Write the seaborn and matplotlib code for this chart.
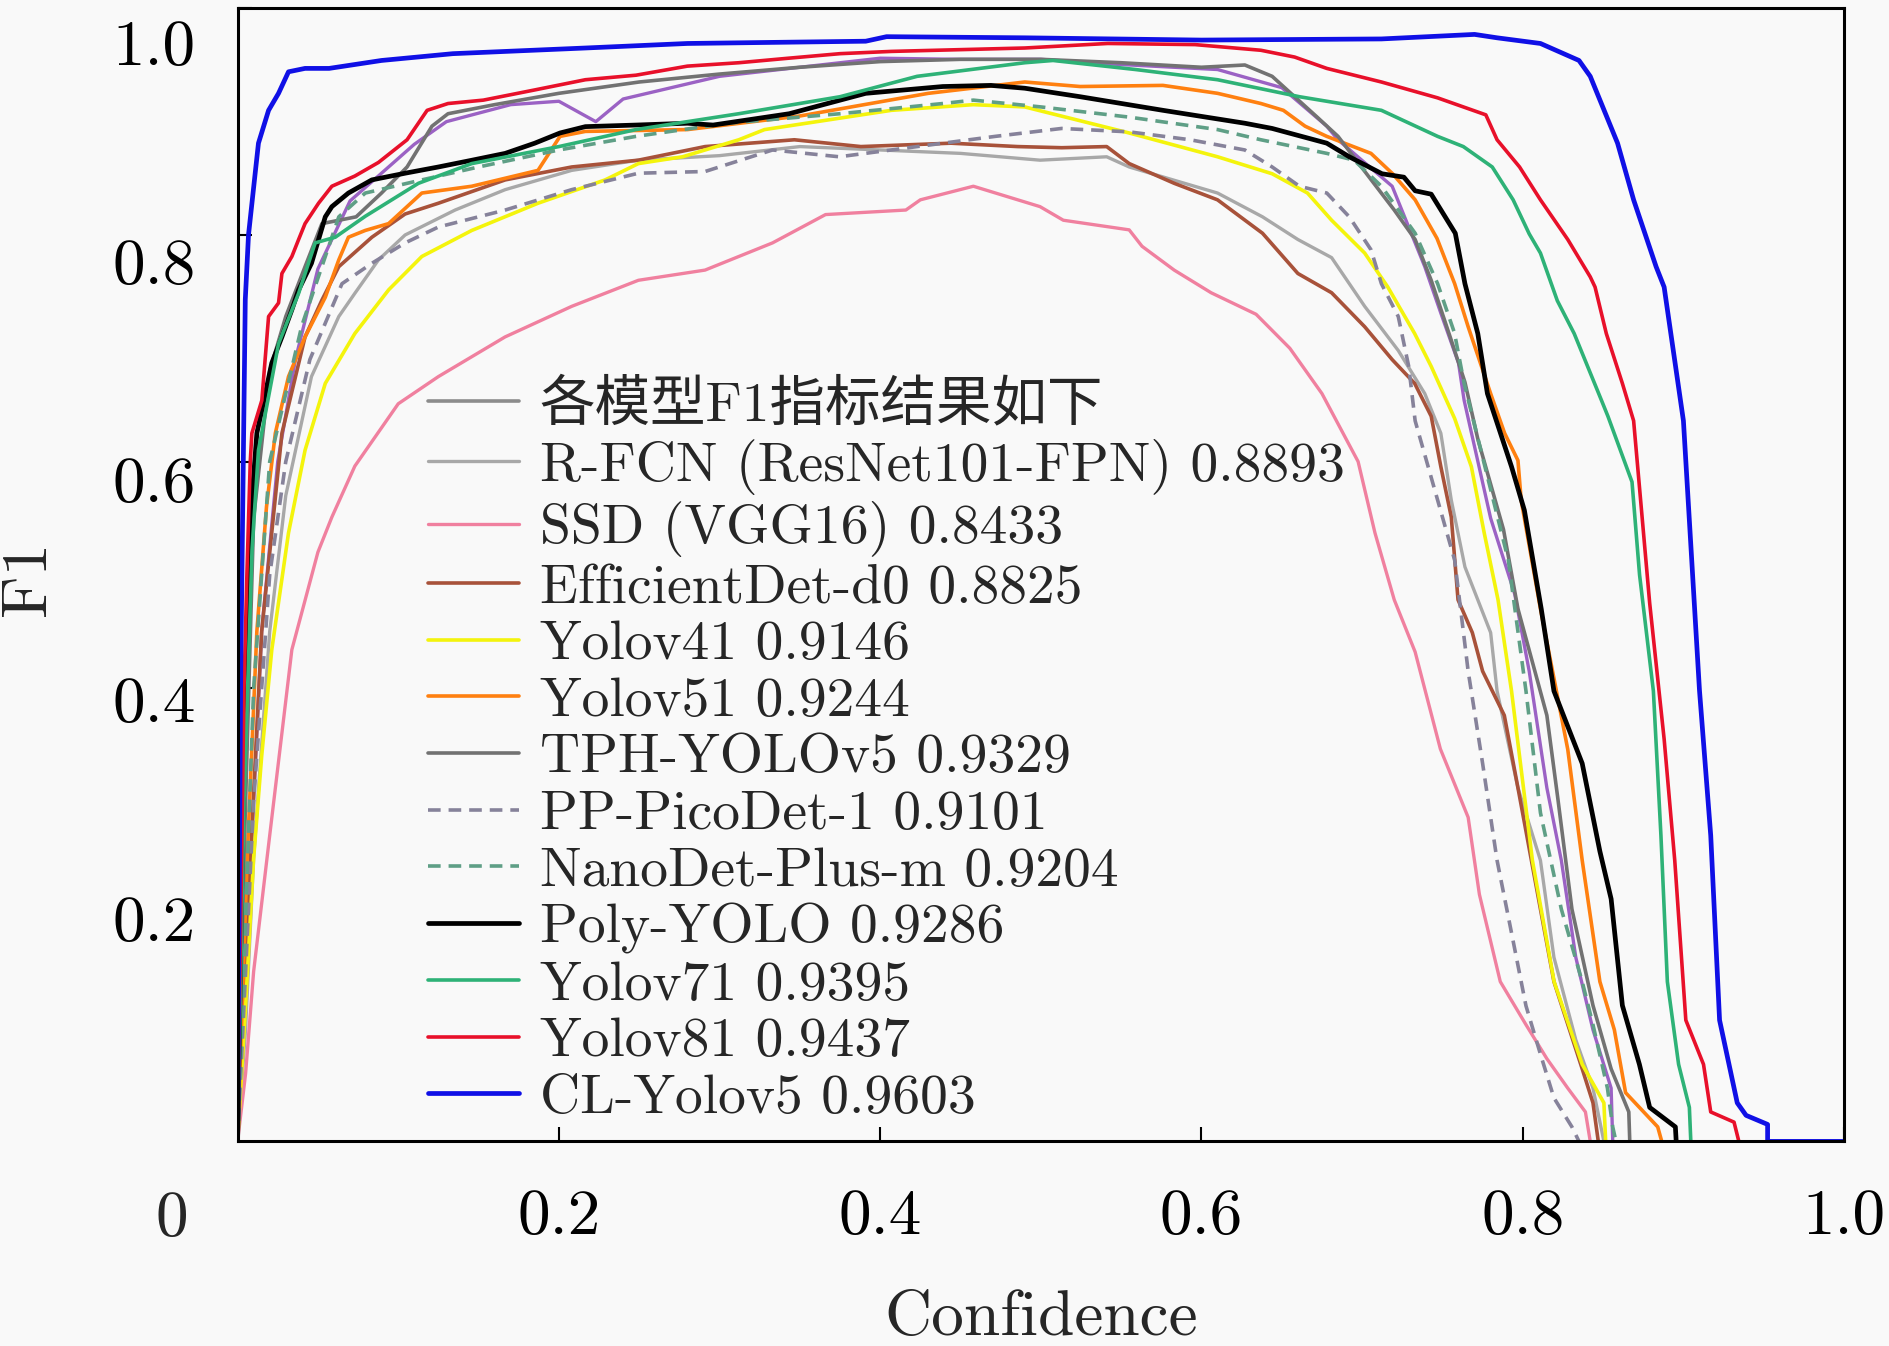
import matplotlib
matplotlib.use("Agg")
import matplotlib.pyplot as plt
from matplotlib.transforms import ScaledTranslation
import seaborn as sns

# ---------------- data ----------------
legend_title_name = "各模型F1指标结果如下"

rfcn_x = [0.0, 0.005, 0.01, 0.02, 0.03, 0.046, 0.063, 0.073, 0.0877, 0.1043, 0.1354, 0.1666, 0.208, 0.2495, 0.3, 0.35, 0.4, 0.45, 0.4995, 0.541, 0.555, 0.61, 0.638, 0.66, 0.681, 0.7016, 0.7225, 0.739, 0.749, 0.7555, 0.764, 0.78, 0.784, 0.797, 0.811, 0.8194, 0.833, 0.8437, 0.8505]
rfcn_y = [0.0, 0.1, 0.25, 0.45, 0.57, 0.675, 0.728, 0.7485, 0.778, 0.80, 0.822, 0.84, 0.857, 0.866, 0.87, 0.878, 0.875, 0.872, 0.866, 0.869, 0.86, 0.837, 0.816, 0.796, 0.78, 0.737, 0.698, 0.66, 0.625, 0.566, 0.507, 0.449, 0.3975, 0.312, 0.248, 0.1625, 0.0896, 0.047, 0.0]

ssd_x = [0.0, 0.005, 0.01, 0.02, 0.0338, 0.05, 0.0587, 0.073, 0.1, 0.125, 0.1665, 0.208, 0.2495, 0.291, 0.333, 0.366, 0.416, 0.425, 0.458, 0.4995, 0.514, 0.555, 0.563, 0.583, 0.606, 0.634, 0.655, 0.675, 0.6975, 0.708, 0.72, 0.733, 0.7487, 0.766, 0.773, 0.786, 0.802, 0.815, 0.828, 0.839, 0.842]
ssd_y = [0.0, 0.06, 0.15, 0.27, 0.434, 0.52, 0.551, 0.596, 0.651, 0.675, 0.71, 0.737, 0.76, 0.769, 0.793, 0.818, 0.822, 0.831, 0.843, 0.825, 0.813, 0.8045, 0.79, 0.769, 0.749, 0.73, 0.70, 0.66, 0.60, 0.537, 0.478, 0.432, 0.3464, 0.286, 0.218, 0.141, 0.103, 0.073, 0.047, 0.026, 0.0]

eff_x = [0.0, 0.008, 0.015, 0.0276, 0.042, 0.0525, 0.063, 0.0836, 0.1043, 0.125, 0.1666, 0.208, 0.2495, 0.291, 0.3466, 0.388, 0.444, 0.4856, 0.513, 0.541, 0.555, 0.583, 0.61, 0.638, 0.66, 0.681, 0.7016, 0.7187, 0.7327, 0.743, 0.749, 0.7555, 0.7597, 0.7686, 0.775, 0.7885, 0.797, 0.811, 0.8194, 0.837, 0.8437, 0.847]
eff_y = [0.0, 0.25, 0.45, 0.625, 0.71, 0.7425, 0.772, 0.798, 0.8185, 0.828, 0.8486, 0.86, 0.866, 0.878, 0.884, 0.878, 0.881, 0.878, 0.877, 0.878, 0.863, 0.8456, 0.831, 0.8015, 0.766, 0.749, 0.719, 0.69, 0.669, 0.64, 0.5955, 0.551, 0.478, 0.449, 0.415, 0.376, 0.312, 0.205, 0.141, 0.064, 0.034, 0.0]

v4_x = [0.0, 0.005, 0.01, 0.015, 0.0213, 0.0317, 0.042, 0.0546, 0.073, 0.094, 0.1147, 0.1458, 0.187, 0.2288, 0.2495, 0.277, 0.312, 0.328, 0.407, 0.458, 0.49, 0.555, 0.61, 0.644, 0.666, 0.681, 0.7016, 0.716, 0.7327, 0.743, 0.7576, 0.768, 0.776, 0.7846, 0.793, 0.806, 0.8195, 0.837, 0.8505, 0.8516]
v4_y = [0.0, 0.12, 0.25, 0.34, 0.434, 0.537, 0.61, 0.669, 0.713, 0.7515, 0.781, 0.804, 0.828, 0.8486, 0.863, 0.869, 0.884, 0.893, 0.91, 0.915, 0.913, 0.89, 0.869, 0.854, 0.837, 0.813, 0.784, 0.754, 0.713, 0.684, 0.638, 0.5955, 0.537, 0.478, 0.3975, 0.248, 0.141, 0.068, 0.034, 0.0]

v5_x = [0.0, 0.006, 0.012, 0.018, 0.0235, 0.0317, 0.042, 0.0546, 0.063, 0.069, 0.0795, 0.094, 0.1147, 0.1458, 0.187, 0.2007, 0.2165, 0.28, 0.35, 0.43, 0.49, 0.5245, 0.576, 0.61, 0.637, 0.651, 0.6645, 0.678, 0.7055, 0.719, 0.733, 0.7466, 0.7576, 0.766, 0.780, 0.7887, 0.797, 0.799, 0.811, 0.828, 0.837, 0.848, 0.857, 0.864, 0.884, 0.8865]
v5_y = [0.0, 0.25, 0.45, 0.56, 0.625, 0.675, 0.71, 0.745, 0.778, 0.798, 0.804, 0.81, 0.837, 0.843, 0.857, 0.887, 0.8914, 0.893, 0.905, 0.925, 0.935, 0.931, 0.932, 0.925, 0.916, 0.91, 0.896, 0.887, 0.872, 0.854, 0.831, 0.797, 0.757, 0.719, 0.66, 0.625, 0.601, 0.566, 0.47, 0.346, 0.248, 0.141, 0.0985, 0.043, 0.0128, 0.0]

tph_x = [0.0, 0.004, 0.01, 0.02, 0.03, 0.042, 0.0525, 0.0738, 0.0896, 0.1055, 0.121, 0.131, 0.16, 0.2, 0.25, 0.3, 0.35, 0.4, 0.45, 0.5, 0.55, 0.6, 0.627, 0.644, 0.658, 0.672, 0.685, 0.72, 0.733, 0.743, 0.7555, 0.764, 0.772, 0.78, 0.788, 0.797, 0.806, 0.815, 0.8217, 0.8306, 0.8437, 0.855, 0.866, 0.8666]
tph_y = [0.0, 0.25, 0.55, 0.68, 0.728, 0.772, 0.81, 0.816, 0.837, 0.86, 0.896, 0.907, 0.915, 0.925, 0.935, 0.942, 0.948, 0.953, 0.955, 0.955, 0.952, 0.948, 0.95, 0.94, 0.922, 0.904, 0.887, 0.822, 0.796, 0.76, 0.707, 0.67, 0.62, 0.58, 0.54, 0.47, 0.423, 0.376, 0.304, 0.205, 0.12, 0.064, 0.026, 0.0]

pico_x = [0.0, 0.01, 0.02, 0.03, 0.045, 0.065, 0.0836, 0.1043, 0.125, 0.1666, 0.208, 0.2495, 0.291, 0.333, 0.3745, 0.4716, 0.513, 0.555, 0.593, 0.627, 0.644, 0.661, 0.678, 0.692, 0.7055, 0.712, 0.7225, 0.729, 0.733, 0.7576, 0.766, 0.775, 0.784, 0.793, 0.802, 0.811, 0.8194, 0.8306, 0.835]
pico_y = [0.0, 0.3, 0.5, 0.6, 0.69, 0.757, 0.775, 0.793, 0.807, 0.822, 0.84, 0.8545, 0.856, 0.875, 0.869, 0.887, 0.894, 0.891, 0.884, 0.875, 0.86, 0.843, 0.837, 0.816, 0.787, 0.757, 0.728, 0.684, 0.636, 0.513, 0.415, 0.3336, 0.248, 0.184, 0.1196, 0.077, 0.0384, 0.0128, 0.0]

nano_x = [0.0, 0.005, 0.01, 0.02, 0.04, 0.063, 0.0795, 0.1147, 0.15, 0.2, 0.248, 0.305, 0.375, 0.439, 0.458, 0.5, 0.555, 0.61, 0.637, 0.678, 0.695, 0.712, 0.733, 0.747, 0.7575, 0.7635, 0.791, 0.802, 0.811, 0.824, 0.837, 0.8437, 0.8527, 0.856, 0.858]
nano_y = [0.0, 0.2, 0.4, 0.6, 0.72, 0.816, 0.837, 0.8486, 0.86, 0.875, 0.887, 0.8986, 0.907, 0.916, 0.919, 0.913, 0.904, 0.893, 0.884, 0.872, 0.866, 0.843, 0.8015, 0.757, 0.7135, 0.669, 0.513, 0.3975, 0.29, 0.205, 0.141, 0.103, 0.047, 0.0128, 0.0]

poly_x = [0.0, 0.004, 0.008, 0.012, 0.0213, 0.0276, 0.0338, 0.038, 0.046, 0.0546, 0.0587, 0.069, 0.0836, 0.1043, 0.125, 0.146, 0.1666, 0.185, 0.2007, 0.2165, 0.248, 0.28, 0.296, 0.3434, 0.391, 0.439, 0.469, 0.49, 0.5245, 0.576, 0.627, 0.644, 0.678, 0.692, 0.7124, 0.726, 0.733, 0.743, 0.758, 0.764, 0.772, 0.778, 0.793, 0.801, 0.8115, 0.8194, 0.837, 0.848, 0.855, 0.862, 0.8726, 0.879, 0.895, 0.8955]
poly_y = [0.0, 0.35, 0.55, 0.625, 0.687, 0.71, 0.734, 0.7515, 0.775, 0.816, 0.825, 0.837, 0.8486, 0.8545, 0.86, 0.866, 0.872, 0.881, 0.89, 0.8956, 0.897, 0.8986, 0.897, 0.907, 0.925, 0.931, 0.932, 0.9295, 0.922, 0.91, 0.8986, 0.894, 0.881, 0.869, 0.854, 0.851, 0.839, 0.836, 0.8015, 0.757, 0.713, 0.66, 0.5955, 0.557, 0.47, 0.3975, 0.3336, 0.256, 0.214, 0.12, 0.068, 0.03, 0.0128, 0.0]

v7_x = [0.0, 0.004, 0.009, 0.013, 0.0255, 0.038, 0.0483, 0.0608, 0.0795, 0.1126, 0.1458, 0.2, 0.248, 0.312, 0.375, 0.423, 0.49, 0.5076, 0.559, 0.61, 0.661, 0.712, 0.747, 0.763, 0.781, 0.794, 0.804, 0.811, 0.8215, 0.832, 0.849, 0.853, 0.868, 0.8727, 0.8813, 0.886, 0.890, 0.897, 0.9037, 0.9046]
v7_y = [0.0, 0.3, 0.522, 0.61, 0.704, 0.7485, 0.793, 0.798, 0.8165, 0.8456, 0.863, 0.878, 0.893, 0.907, 0.922, 0.94, 0.952, 0.954, 0.946, 0.937, 0.922, 0.91, 0.887, 0.878, 0.86, 0.831, 0.801, 0.784, 0.742, 0.713, 0.654, 0.64, 0.582, 0.5, 0.3975, 0.27, 0.141, 0.068, 0.03, 0.0]

v8_x = [0.0, 0.002, 0.004, 0.0058, 0.0079, 0.0089, 0.0151, 0.0193, 0.0255, 0.0276, 0.0338, 0.038, 0.042, 0.0504, 0.0587, 0.073, 0.0877, 0.1055, 0.118, 0.131, 0.153, 0.185, 0.2165, 0.248, 0.28, 0.312, 0.343, 0.375, 0.407, 0.49, 0.5417, 0.596, 0.637, 0.658, 0.678, 0.712, 0.747, 0.777, 0.784, 0.798, 0.811, 0.828, 0.842, 0.845, 0.852, 0.862, 0.869, 0.879, 0.888, 0.8946, 0.9015, 0.9125, 0.917, 0.9315, 0.9345]
v8_y = [0.0, 0.2, 0.4, 0.5, 0.6, 0.625, 0.654, 0.728, 0.74, 0.766, 0.781, 0.796, 0.81, 0.828, 0.843, 0.852, 0.864, 0.884, 0.91, 0.916, 0.919, 0.928, 0.937, 0.941, 0.949, 0.952, 0.956, 0.96, 0.962, 0.965, 0.969, 0.968, 0.963, 0.957, 0.947, 0.935, 0.921, 0.906, 0.884, 0.86, 0.831, 0.796, 0.763, 0.754, 0.713, 0.669, 0.636, 0.475, 0.355, 0.248, 0.107, 0.068, 0.026, 0.017, 0.0]

cl_x = [0.0, 0.002, 0.0048, 0.0068, 0.011, 0.013, 0.0193, 0.0255, 0.0317, 0.042, 0.057, 0.0896, 0.134, 0.2165, 0.28, 0.391, 0.404, 0.49, 0.60, 0.712, 0.770, 0.784, 0.811, 0.835, 0.842, 0.859, 0.869, 0.883, 0.888, 0.900, 0.9037, 0.910, 0.917, 0.9225, 0.9335, 0.939, 0.9524, 0.9524, 1.0]
cl_y = [0.0, 0.42, 0.743, 0.80, 0.855, 0.881, 0.91, 0.925, 0.944, 0.947, 0.947, 0.954, 0.960, 0.965, 0.969, 0.971, 0.975, 0.974, 0.972, 0.973, 0.977, 0.974, 0.969, 0.954, 0.94, 0.881, 0.831, 0.772, 0.754, 0.636, 0.548, 0.398, 0.27, 0.107, 0.034, 0.023, 0.015, 0.0, 0.0]

# extra purple curve visible in the plot (not in legend)
extra_x = [0.0, 0.005, 0.015, 0.025, 0.036, 0.05, 0.07, 0.09, 0.11, 0.13, 0.17, 0.2, 0.223, 0.24, 0.3, 0.35, 0.4, 0.45, 0.5, 0.542, 0.61, 0.65, 0.678, 0.685, 0.7187, 0.739, 0.749, 0.76, 0.7635, 0.78, 0.795, 0.804, 0.815, 0.824, 0.833, 0.8437, 0.855, 0.856]
extra_y = [0.0, 0.15, 0.45, 0.6, 0.69, 0.77, 0.83, 0.855, 0.88, 0.9, 0.915, 0.918, 0.9, 0.92, 0.94, 0.948, 0.956, 0.955, 0.955, 0.951, 0.946, 0.93, 0.896, 0.884, 0.843, 0.772, 0.731, 0.687, 0.654, 0.55, 0.483, 0.415, 0.312, 0.248, 0.1625, 0.0985, 0.047, 0.0]

series_names = ["R-FCN (ResNet101-FPN) 0.8893", "SSD (VGG16) 0.8433", "EfficientDet-d0 0.8825",
                "Yolov41 0.9146", "Yolov51 0.9244", "TPH-YOLOv5 0.9329", "PP-PicoDet-1 0.9101",
                "NanoDet-Plus-m 0.9204", "Poly-YOLO 0.9286", "Yolov71 0.9395", "Yolov81 0.9437",
                "CL-Yolov5 0.9603"]
series_x = [rfcn_x, ssd_x, eff_x, v4_x, v5_x, tph_x, pico_x, nano_x, poly_x, v7_x, v8_x, cl_x]
series_y = [rfcn_y, ssd_y, eff_y, v4_y, v5_y, tph_y, pico_y, nano_y, poly_y, v7_y, v8_y, cl_y]

tick_vals = [0.2, 0.4, 0.6, 0.8, 1.0]
tick_labels = ["0.2", "0.4", "0.6", "0.8", "1.0"]

# ---------------- styling ----------------
colors = ["#a8a8a8", "#f0809f", "#a8523a", "#f4f40c", "#ff8010", "#727272",
          "#86829a", "#5f9f86", "#000000", "#2eb277", "#e8102a", "#1010e6"]
styles = ["-", "-", "-", "-", "-", "-", (0, (3.5, 2.2)), (0, (3.5, 2.2)), "-", "-", "-", "-"]
widths = [2.4, 2.4, 2.6, 2.6, 2.6, 2.6, 2.6, 2.6, 3.4, 2.6, 2.6, 3.4]
# downward shift (points) of the y tick labels, as drawn in the reference
ylabel_shift_pt = [2.6, 7.8, 13.0, 19.1, 24.3]

BG = "#f9f9f9"
sns.set_style("ticks")
plt.rcParams["font.family"] = ["cmr10", "Noto Sans CJK SC", "DejaVu Sans"]
plt.rcParams["axes.formatter.use_mathtext"] = True
plt.rcParams["mathtext.fontset"] = "cm"

fig = plt.figure(figsize=(18.9, 13.46), dpi=100, facecolor=BG)
ax = fig.add_axes([0.1257, 0.152, 0.85, 0.8418])
ax.set_facecolor(BG)

# legend-title entry (grey line, no data)
title_handle, = ax.plot([], [], color="#8c8c8c", lw=2.6, label=legend_title_name)

sns.lineplot(x=extra_x, y=extra_y, ax=ax, color="#9b62c4", linewidth=2.4,
             sort=False, estimator=None, errorbar=None, legend=False)

handles = [title_handle]
for name, xs, ys, c, ls, lw in zip(series_names, series_x, series_y, colors, styles, widths):
    sns.lineplot(x=xs, y=ys, ax=ax, color=c, linestyle=ls, linewidth=lw,
                 sort=False, estimator=None, errorbar=None, label=name)
    handles.append(ax.lines[-1])

ax.set_xlim(0, 1.0)
ax.set_ylim(0, 1.0)
ax.set_xticks(tick_vals)
ax.set_xticklabels(tick_labels)
ax.set_yticks(tick_vals)
ax.set_yticklabels(tick_labels)
ax.tick_params(axis="both", direction="in", length=10, width=1.5, labelsize=47, colors="black")
ax.tick_params(axis="x", pad=34)
ax.tick_params(axis="y", pad=30)
for s in ax.spines.values():
    s.set_linewidth(2.2)
    s.set_color("black")
    s.set_visible(True)

for tick, dy in zip(ax.yaxis.get_major_ticks(), ylabel_shift_pt):
    tick.label1.set_transform(tick.label1.get_transform()
                              + ScaledTranslation(0, -dy / 72.0, fig.dpi_scale_trans))

ax.text(-0.0408, -0.0693, "0", transform=ax.transAxes, ha="center", va="center", fontsize=47)

ax.set_xlabel("Confidence", fontsize=47)
ax.set_ylabel("F1", fontsize=47)
ax.xaxis.set_label_coords(0.5, -0.131)
ax.yaxis.set_label_coords(-0.112, 0.497)

leg = ax.legend(handles=handles, labels=[legend_title_name] + series_names,
                loc="upper left", bbox_to_anchor=(0.1186, 0.672), frameon=False,
                fontsize=40, handlelength=1.63, handletextpad=0.38, labelspacing=0.12,
                borderpad=0.0, borderaxespad=0.0)

fig.savefig("out.png", dpi=100, facecolor=BG)
